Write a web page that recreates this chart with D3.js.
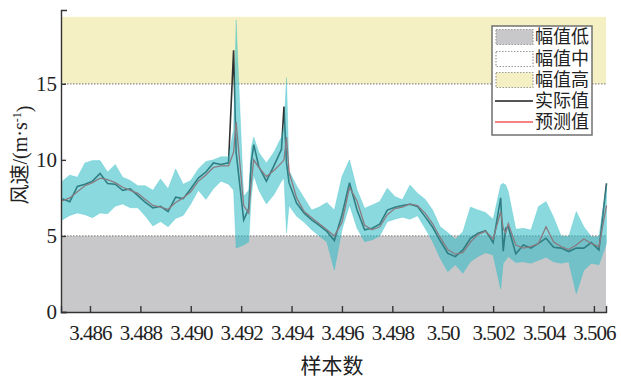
<!DOCTYPE html>
<html>
<head>
<meta charset="utf-8">
<script src="https://cdn.jsdelivr.net/npm/d3@7"></script>
<style>
  body { margin: 0; background: #fff; }
  text { font-family: "Liberation Serif", "Noto Sans CJK SC", serif; fill: #222; }
</style>
</head>
<body>
<script>

// sample index (x value = sample / 10000)
var samples = [34849, 34852, 34855, 34858, 34861, 34864, 34867, 34870, 34873, 34876,
  34879, 34882, 34885, 34888, 34891, 34894, 34897, 34900, 34903, 34906,
  34909, 34912, 34915, 34917, 34918, 34921, 34923, 34924, 34925, 34927, 34930, 34933,
  34936, 34937, 34938, 34939, 34942, 34945, 34948, 34951, 34954, 34957,
  34960, 34963, 34966, 34969, 34972, 34975, 34978, 34981, 34984, 34987,
  34990, 34993, 34996, 34999, 35002, 35005, 35008, 35011, 35014, 35017,
  35020, 35023, 35024, 35025, 35026, 35029, 35032, 35035, 35038, 35041,
  35044, 35047, 35050, 35053, 35056, 35059, 35062, 35065];

// measured wind speed
var actual = [7.45, 7.25, 8.25, 8.4, 8.6, 9.1, 8.45, 8.4, 8.0, 8.1,
  7.65, 7.2, 6.85, 6.95, 6.6, 7.55, 7.45, 8.1, 8.8, 9.2,
  9.8, 9.7, 9.8, 17.2, 10.5, 6.05, 6.8, 9.8, 11.0, 9.56, 8.6, 9.6,
  10.7, 13.5, 9.8, 8.5, 7.15, 6.5, 6.05, 5.7, 5.3, 4.7,
  6.38, 8.5, 6.7, 5.4, 5.5, 5.77, 6.7, 6.89, 7.0, 7.08,
  6.93, 6.27, 5.57, 4.67, 3.86, 3.64, 4.08, 4.85, 5.17, 5.35,
  4.56, 7.5, 4.0, 5.5, 5.6, 3.82, 4.4, 4.2, 4.51, 4.85,
  4.25, 4.2, 3.97, 4.2, 4.2, 4.56, 4.08, 8.46];

// predicted wind speed
var predicted = [7.3, 7.5, 7.9, 8.3, 8.5, 8.8, 8.7, 8.5, 8.2, 8.0,
  7.8, 7.4, 7.0, 6.9, 6.75, 7.2, 7.5, 7.9, 8.6, 9.0,
  9.5, 9.6, 9.6, 10.5, 12.5, 7.0, 6.5, 8.5, 10.0, 9.5, 8.9, 9.3,
  9.8, 10.0, 11.5, 9.2, 7.5, 6.6, 6.2, 5.8, 5.4, 5.0,
  5.9, 8.2, 7.3, 5.7, 5.4, 5.6, 6.4, 6.8, 6.9, 7.1,
  7.0, 6.5, 5.8, 4.9, 4.1, 3.8, 3.9, 4.6, 5.1, 5.3,
  4.8, 6.6, 5.5, 5.2, 5.8, 4.4, 4.2, 4.3, 4.5, 5.6,
  4.6, 4.3, 4.1, 4.4, 4.8, 4.5, 4.3, 7.0];

// lower and upper bound of the prediction interval
var lower = [6.05, 6.35, 6.5, 6.4, 6.2, 6.5, 6.45, 6.95, 7.1, 6.85,
  6.85, 6.3, 5.65, 5.95, 5.6, 6.15, 6.35, 7.1, 8.0, 7.4,
  8.1, 8.6, 8.4, 8.0, 4.2, 4.4, 4.6, 7.5, 9.0, 8.0, 7.1, 7.7,
  8.6, 8.8, 5.2, 7.0, 6.3, 5.9, 5.4, 5.0, 4.6, 2.75,
  5.39, 7.04, 5.5, 4.62, 4.74, 5.0, 5.94, 6.1, 6.23, 6.1,
  6.32, 5.5, 4.62, 3.53, 2.65, 3.1, 2.54, 3.3, 3.64, 3.9,
  3.75, 1.5, 3.2, 3.4, 3.64, 3.25, 3.3, 3.2, 3.4, 3.6,
  3.3, 3.2, 3.3, 1.2, 2.75, 3.2, 3.1, 4.5];

var upper = [8.6, 9.0, 8.85, 9.8, 9.95, 9.95, 9.2, 9.7, 8.85, 8.65,
  8.3, 8.3, 8.0, 8.75, 8.1, 9.4, 8.4, 8.65, 9.4, 9.9,
  10.0, 10.2, 10.2, 12.0, 19.2, 7.6, 8.0, 10.8, 11.5, 10.5, 9.8, 10.5,
  11.5, 12.2, 15.4, 9.3, 8.3, 7.5, 6.7, 6.9, 7.2, 6.7,
  8.9, 10.0, 8.03, 6.82, 7.04, 7.26, 8.14, 7.59, 7.37, 8.35,
  7.81, 7.41, 6.71, 5.61, 5.22, 4.78, 5.28, 6.9, 6.71, 6.54,
  6.1, 8.35, 8.46, 8.35, 7.92, 5.44, 5.5, 5.39, 6.93, 7.26,
  6.23, 5.0, 4.95, 6.6, 5.6, 4.95, 4.95, 8.46];

// amplitude levels
var levelBreaks = [0, 5, 15, 19.4];
var levelNames = ["幅值低", "幅值中", "幅值高"];
var levelColors = ["#c8c8ca", "#ffffff", "#f5f0c3"];

// axis ticks
var xTicks = [34860, 34880, 34900, 34920, 34940, 34960, 34980, 35000, 35020, 35040, 35060];
var xTickLabels = ["3.486", "3.488", "3.490", "3.492", "3.494", "3.496", "3.498", "3.50", "3.502", "3.504", "3.506"];
var yTicks = [0, 5, 10, 15];
var xRange = [34848.5, 35064.8];
var yMax = 19.85;

window.onload = function() {

  var width = 621;
  var height = 377;
  var left = 61;
  var right = 606;
  var top = 10;
  var bottom = 312;

  var svg = d3.select("body")
              .append("svg")
              .attr("width", width)
              .attr("height", height);

  // scales
  var xScale = d3.scaleLinear()
                 .domain(xRange)
                 .range([left, right]);

  var yScale = d3.scaleLinear()
                 .domain([0, yMax])
                 .range([bottom, top]);

  // amplitude level bands
  for (var i = 0; i < levelNames.length; i++) {
    svg.append("rect")
       .attr("x", left)
       .attr("y", yScale(levelBreaks[i + 1]))
       .attr("width", right - left)
       .attr("height", yScale(levelBreaks[i]) - yScale(levelBreaks[i + 1]))
       .attr("fill", levelColors[i]);
  }

  // dotted level borders
  svg.selectAll("line.level")
     .data([5, 15])
     .enter()
     .append("line")
     .attr("class", "level")
     .attr("x1", left)
     .attr("x2", right)
     .attr("y1", function(d) { return yScale(d); })
     .attr("y2", function(d) { return yScale(d); })
     .attr("stroke", "#8a8a8a")
     .attr("stroke-width", 1.3)
     .attr("stroke-dasharray", "1.5,1.5");

  var rows = samples.map(function(s, i) {
    return {s: s, a: actual[i], p: predicted[i], lo: lower[i], hi: upper[i]};
  });

  // actual and predicted lines
  var lineActual = d3.line()
                     .x(function(d) { return xScale(d.s); })
                     .y(function(d) { return yScale(d.a); });

  var linePred = d3.line()
                   .x(function(d) { return xScale(d.s); })
                   .y(function(d) { return yScale(d.p); });

  svg.append("path")
     .datum(rows)
     .attr("d", lineActual)
     .attr("fill", "none")
     .attr("stroke", "#303030")
     .attr("stroke-width", 1.6);

  svg.append("path")
     .datum(rows)
     .attr("d", linePred)
     .attr("fill", "none")
     .attr("stroke", "#ff2a2a")
     .attr("stroke-width", 1.3);

  // prediction interval on top
  var band = d3.area()
               .x(function(d) { return xScale(d.s); })
               .y0(function(d) { return yScale(d.lo); })
               .y1(function(d) { return yScale(d.hi); });

  svg.append("path")
     .datum(rows)
     .attr("d", band)
     .attr("fill", "#2fbcc6")
     .attr("fill-opacity", 0.56)
     .attr("stroke", "#2fbcc6")
     .attr("stroke-opacity", 0.35)
     .attr("stroke-width", 0.8);

  // x axis
  var xAxis = d3.axisBottom(xScale)
                .tickValues(xTicks)
                .tickFormat(function(d, i) { return xTickLabels[i]; })
                .tickSizeInner(-6)
                .tickSizeOuter(-6)
                .tickPadding(13);

  var gx = svg.append("g")
              .attr("transform", "translate(0," + bottom + ")")
              .call(xAxis);

  gx.selectAll("text")
    .style("font-size", "21px")
    .style("letter-spacing", "-1px")
    .attr("fill", "#222");

  // y axis
  var yAxis = d3.axisLeft(yScale)
                .tickValues(yTicks)
                .tickSizeInner(-5)
                .tickSizeOuter(-6)
                .tickPadding(4);

  var gy = svg.append("g")
              .attr("transform", "translate(" + left + ",0)")
              .call(yAxis);

  gy.selectAll("text")
    .style("font-size", "21px")
    .attr("fill", "#222");

  svg.selectAll(".domain, .tick line")
     .attr("stroke", "#333")
     .attr("stroke-width", 1.4);

  // axis titles
  var yTitle = svg.append("text")
                  .attr("transform", "translate(27," + 155 + ")rotate(-90)")
                  .attr("text-anchor", "middle")
                  .style("font-size", "20px");

  yTitle.append("tspan").text("风速/(m·s");
  yTitle.append("tspan")
        .attr("dy", "-0.5em")
        .style("font-size", "12px")
        .text("-1");
  yTitle.append("tspan")
        .attr("dy", "0.5em")
        .text(")");

  svg.append("text")
     .attr("x", 332)
     .attr("y", 373)
     .attr("text-anchor", "middle")
     .style("font-size", "21px")
     .text("样本数");

  // legend
  var legend = svg.append("g");

  legend.append("rect")
        .attr("x", 492)
        .attr("y", 26)
        .attr("width", 100)
        .attr("height", 109)
        .attr("fill", "#fff")
        .attr("stroke", "#707070")
        .attr("stroke-width", 1.5);

  var rowY = [37, 59, 80, 101, 122];

  for (var j = 0; j < levelNames.length; j++) {
    legend.append("rect")
          .attr("x", 496)
          .attr("y", rowY[j] - 7.5)
          .attr("width", 37)
          .attr("height", 15)
          .attr("fill", levelColors[j])
          .attr("stroke", "#9a9a9a")
          .attr("stroke-width", 1.2)
          .attr("stroke-dasharray", "1.5,1.5");
  }

  legend.append("line")
        .attr("x1", 495).attr("x2", 533)
        .attr("y1", rowY[3]).attr("y2", rowY[3])
        .attr("stroke", "#555")
        .attr("stroke-width", 1.8);

  legend.append("line")
        .attr("x1", 495).attr("x2", 533)
        .attr("y1", rowY[4]).attr("y2", rowY[4])
        .attr("stroke", "#f05a5a")
        .attr("stroke-width", 1.5);

  var legendNames = levelNames.concat(["实际值", "预测值"]);

  legend.selectAll("text")
        .data(legendNames)
        .enter()
        .append("text")
        .attr("x", 535)
        .attr("y", function(d, i) { return rowY[i]; })
        .attr("dy", "0.36em")
        .style("font-size", "18px")
        .text(function(d) { return d; });
}
</script>
</body>
</html>
